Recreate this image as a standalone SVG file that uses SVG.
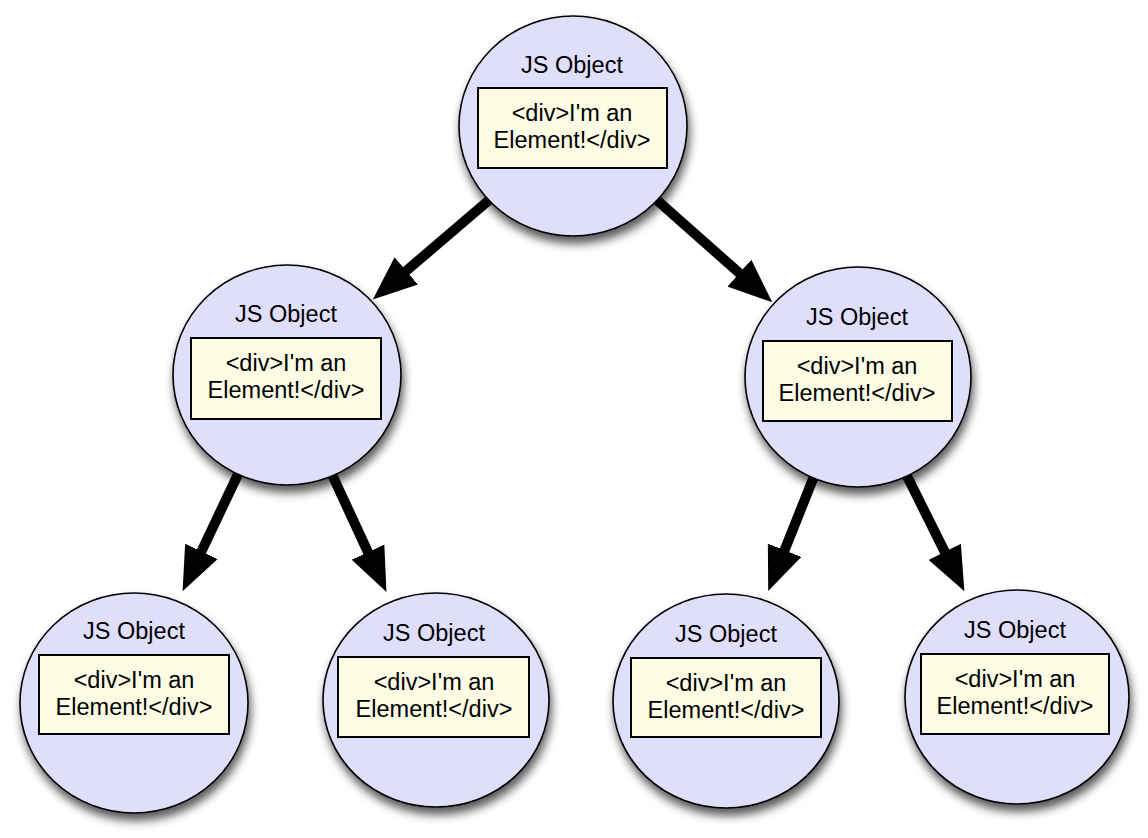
<svg xmlns="http://www.w3.org/2000/svg" width="1148" height="838" viewBox="0 0 1148 838">
<style>
.obj{fill:#dfdffc;stroke:#000;stroke-width:1.6;filter:url(#sh)}
.el{fill:#fdfde6;stroke:#000;stroke-width:2}
text{font-family:"Liberation Sans",Arial,sans-serif;font-size:23.5px;fill:#000;text-anchor:middle}
.arr{stroke:#000;stroke-width:10;fill:none;marker-end:url(#ah)}
</style>
<defs>
<filter id="sh" x="-20%" y="-20%" width="150%" height="150%">
<feDropShadow dx="2" dy="7" stdDeviation="5" flood-color="#000" flood-opacity="0.65"/>
</filter>
<marker id="ah" viewBox="0 0 44 36" markerWidth="44" markerHeight="36" markerUnits="userSpaceOnUse" refX="1" refY="18" orient="auto">
<path d="M0,0 L44,18 L0,36 z" fill="#000"/>
</marker>
</defs>
<rect width="1148" height="838" fill="#fff"/>
<g id="connectors">
<line class="arr" x1="495" y1="195" x2="405.5" y2="271.5"/>
<line class="arr" x1="650" y1="194" x2="740.1" y2="273.8"/>
<line class="arr" x1="241" y1="468" x2="201" y2="552.3"/>
<line class="arr" x1="329" y1="468" x2="368.4" y2="553.1"/>
<line class="arr" x1="817" y1="469" x2="784.2" y2="551.1"/>
<line class="arr" x1="903" y1="468" x2="945.2" y2="552.7"/>
</g>
<g id="n0">
<ellipse class="obj" cx="573" cy="126" rx="114" ry="110"/>
<text x="572" y="73">JS Object</text>
<rect class="el" x="478" y="88" width="189" height="80"/>
<text x="572" y="121">&lt;div&gt;I'm an</text>
<text x="572" y="148">Element!&lt;/div&gt;</text>
</g>
<g id="n1">
<ellipse class="obj" cx="287" cy="375" rx="114" ry="110"/>
<text x="286" y="322">JS Object</text>
<rect class="el" x="191" y="338" width="190" height="81"/>
<text x="286" y="371">&lt;div&gt;I'm an</text>
<text x="286" y="398">Element!&lt;/div&gt;</text>
</g>
<g id="n2">
<ellipse class="obj" cx="858" cy="377" rx="113" ry="110"/>
<text x="857" y="325">JS Object</text>
<rect class="el" x="763" y="341" width="189" height="80"/>
<text x="857" y="374">&lt;div&gt;I'm an</text>
<text x="857" y="401">Element!&lt;/div&gt;</text>
</g>
<g id="n3">
<ellipse class="obj" cx="134" cy="703" rx="114" ry="110"/>
<text x="134" y="639">JS Object</text>
<rect class="el" x="39" y="655" width="190" height="79"/>
<text x="134" y="688">&lt;div&gt;I'm an</text>
<text x="134" y="715">Element!&lt;/div&gt;</text>
</g>
<g id="n4">
<ellipse class="obj" cx="436" cy="700" rx="113" ry="107"/>
<text x="434" y="641">JS Object</text>
<rect class="el" x="338" y="657" width="191" height="80"/>
<text x="434" y="690">&lt;div&gt;I'm an</text>
<text x="434" y="717">Element!&lt;/div&gt;</text>
</g>
<g id="n5">
<ellipse class="obj" cx="726" cy="701" rx="113" ry="107"/>
<text x="726" y="642">JS Object</text>
<rect class="el" x="631" y="658" width="190" height="79"/>
<text x="726" y="691">&lt;div&gt;I'm an</text>
<text x="726" y="718">Element!&lt;/div&gt;</text>
</g>
<g id="n6">
<ellipse class="obj" cx="1017" cy="697" rx="112" ry="107"/>
<text x="1015" y="638">JS Object</text>
<rect class="el" x="921" y="654" width="188" height="80"/>
<text x="1015" y="687">&lt;div&gt;I'm an</text>
<text x="1015" y="714">Element!&lt;/div&gt;</text>
</g>
</svg>
